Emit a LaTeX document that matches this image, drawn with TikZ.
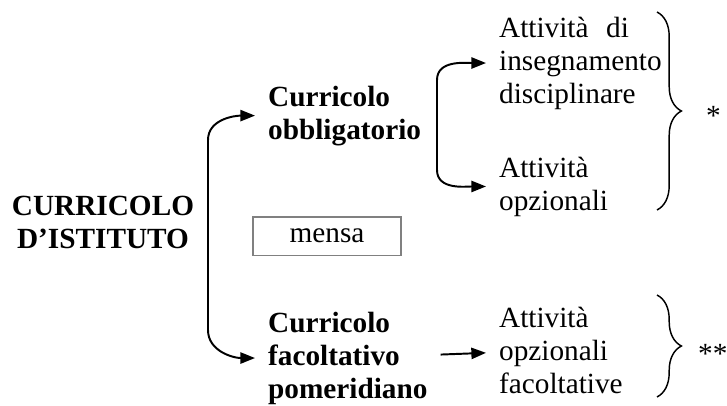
\documentclass[tikz,border=0pt]{standalone}
\usepackage{fontspec}
\setmainfont{Liberation Serif}
\usetikzlibrary{positioning,calc,arrows.meta,decorations.pathreplacing}
\newcommand{\figfont}{\fontsize{12}{13.5}\selectfont}
\tikzset{font=\figfont}

\begin{document}
\begin{tikzpicture}[x=0.41pt, y=-0.41pt]
	\useasboundingbox (0, 0) rectangle (727, 406);
	\begin{scope}[>={Triangle[length=6pt, width=4.6pt]}, line width=0.8pt]
		\tikzstyle{every node}=[align=left, inner sep=5pt, anchor=base west]
		\tikzstyle{bold}=[font=\figfont\bfseries]
		% base = ultima riga
		\node[bold, align=center, anchor=base] (ci) at (103, 248) {CURRICOLO\\D'ISTITUTO};

		\node[bold] (co) at (255, 139) {Curricolo\\obbligatorio};
		\node[bold] (cf) at (255, 398) {Curricolo\\facoltativo\\pomeridiano};
		\node[draw=gray, line width=0.6pt, anchor=center, minimum width=60.7pt, minimum height=14.8pt] (mensa) at (327, 236) {mensa};

		\node (aid) at (486, 103) {Attività\hspace{0.6em}di\\insegnamento\\disciplinare};
		\node (ao) at (486, 210) {Attività\\opzionali};
		\node (aof) at (486, 393) {Attività\\opzionali\\facoltative};

		\node (s1) at (693, 125) {*};
		\node (s2) at (685, 363) {**};

		\coordinate (bl1) at (208, 140);
		\coordinate (bl2) at (208, 330);
		\coordinate (br1) at (437, 80);
		\coordinate (br2) at (437, 170);

		\draw [<->] (co.west) to[out=180, in=90] (bl1) -- (bl2) to[out=-90, in=180] (cf.west);
		\draw [<->] (aid.west) to[out=180, in=90] (br1) -- (br2) to[out=-90, in=180] (ao.west);
		\draw [->] (cf) to (aof);

		% graffe
		\coordinate (g1t) at (657, 12);
		\coordinate (g1b) at (657, 210);
		\coordinate (g2t) at (657, 295);
		\coordinate (g2b) at (657, 397);
		\draw [decorate, decoration={brace, amplitude=10pt}, line width=0.6pt] (g1t) to (g1b);
		\draw [decorate, decoration={brace, amplitude=10pt}, line width=0.6pt] (g2t) to (g2b);
	\end{scope}
\end{tikzpicture}
\end{document}
